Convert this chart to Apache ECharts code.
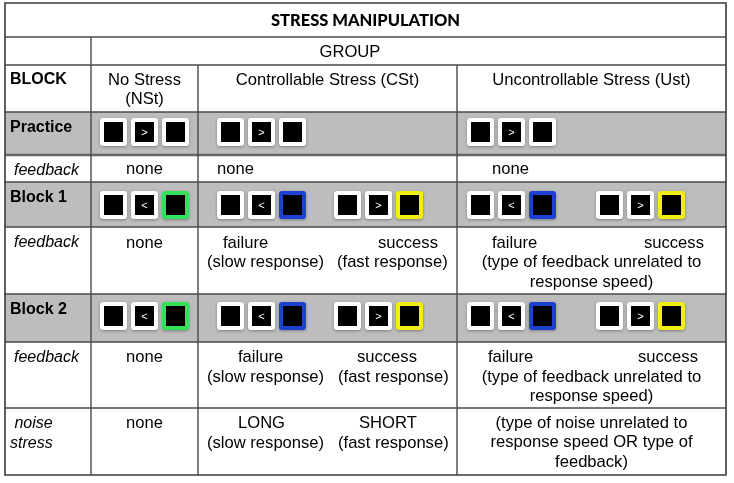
<!DOCTYPE html>
<html><head><meta charset="utf-8">
<script src="https://cdn.jsdelivr.net/npm/echarts@6/dist/echarts.min.js"></script>
<style>html,body{margin:0;padding:0;background:#fff}#c{width:734px;height:483px}</style>
</head><body><div id="c"></div>
<script>
// ================= DATA =================
const title = 'STRESS MANIPULATION';
const groupHeader = 'GROUP';
const blockHeader = 'BLOCK';
const groups = ['No Stress\n(NSt)', 'Controllable Stress (CSt)', 'Uncontrollable Stress (Ust)'];
const rowLabels = ['Practice', 'feedback', 'Block 1', 'feedback', 'Block 2', 'feedback', ' noise\nstress'];
const rowLabelItalic = [false, true, false, true, false, true, true];
// stimulus sequences: arrow + feedback frame colour (g/b/y, '' = none)
const practiceTrials = [['>'], ['>'], ['>']];
const block1Trials = [['<g'], ['<b', '>y'], ['<b', '>y']];
const block2Trials = [['<g'], ['<b', '>y'], ['<b', '>y']];
// text cells (one list of pieces per group)
const practiceFeedback = [['none'], ['none'], ['none']];
const block1Feedback = [['none'], ['failure', 'success', '(slow response)', '(fast response)'],
  ['failure', 'success', '(type of feedback unrelated to\nresponse speed)']];
const block2Feedback = [['none'], ['failure', 'success', '(slow response)', '(fast response)'],
  ['failure', 'success', '(type of feedback unrelated to\nresponse speed)']];
const noiseStress = [['none'], ['LONG', 'SHORT', '(slow response)', '(fast response)'],
  ['(type of noise unrelated to\nresponse speed OR type of\nfeedback)']];

// ================= LAYOUT =================
const colX = [5, 91, 198, 457, 726];
const rowY = [3, 37, 65, 112, 155, 182, 227, 294, 342, 408, 475];
const greyRows = [3, 5, 7];
const FONT = '"Liberation Sans", Arial, sans-serif';
const BODY = '16.6px ' + FONT;
const LINE_GAP = 19.8;
const labelDx = [5, 9, 5, 9, 5, 9, 5];
// piece positions per text row: [x, y, align] (absolute layout units)
const textRowPos = {
  4: [[[144.5, 169, 'center']], [[217, 169, 'left']], [[492, 169, 'left']]],
  6: [[[144.5, 243, 'center']], [[223, 243, 'left'], [378, 243, 'left'], [207, 262.5, 'left'], [337, 262.5, 'left']],
      [[492, 243, 'left'], [644, 243, 'left'], [591.5, 262.5, 'center']]],
  8: [[[144.5, 357, 'center']], [[238, 357, 'left'], [357, 357, 'left'], [207, 377, 'left'], [338, 377, 'left']],
      [[488, 357, 'left'], [638, 357, 'left'], [591.5, 377, 'center']]],
  9: [[[144.5, 423, 'center']], [[238, 423, 'left'], [359, 423, 'left'], [207, 443, 'left'], [338, 443, 'left']],
      [[591.5, 423, 'center']]]
};
const stimRowTop = {3: 118, 5: 191, 7: 302};
const trialStartX = [[100], [217, 334], [467, 596]];
const FRAME_PITCH = 31;
const fbColours = {g: '#2fe35a', b: '#1e3fd3', y: '#f3ee12'};

// ================= BUILD ELEMENTS =================
const els = [];
greyRows.forEach(r => els.push({k: 'rect', x: colX[0], y: rowY[r], w: colX[4] - colX[0], h: rowY[r + 1] - rowY[r], fill: '#bdbdbd'}));
for (let r = 1; r < rowY.length - 1; r++) {
  els.push({k: 'line', x1: colX[0], y1: rowY[r], x2: colX[4], y2: rowY[r], w: r === 4 ? 2.5 : 1.4, c: r === 4 ? '#666' : '#4a4a4a'});
}
els.push({k: 'line', x1: colX[1], y1: rowY[1], x2: colX[1], y2: rowY[10], w: 1.4, c: '#4a4a4a'});
els.push({k: 'line', x1: colX[2], y1: rowY[2], x2: colX[2], y2: rowY[10], w: 1.4, c: '#4a4a4a'});
els.push({k: 'line', x1: colX[3], y1: rowY[2], x2: colX[3], y2: rowY[10], w: 1.4, c: '#4a4a4a'});
els.push({k: 'frame', x: colX[0], y: rowY[0], w: colX[4] - colX[0], h: rowY[10] - rowY[0]});

els.push({k: 'text', t: title, x: (colX[0] + colX[4]) / 2, y: 21, a: 'center', font: '900 16.5px Lato, sans-serif'});
els.push({k: 'text', t: groupHeader, x: 350, y: 52, a: 'center', font: BODY});
els.push({k: 'text', t: blockHeader, x: colX[0] + 5, y: 80, a: 'left', font: 'bold 16px ' + FONT});
groups.forEach((g, i) => {
  g.split('\n').forEach((ln, j) => els.push({k: 'text', t: ln, x: (colX[i + 1] + colX[i + 2]) / 2, y: 80 + j * LINE_GAP, a: 'center', font: BODY}));
});
const labelRowIdx = [3, 4, 5, 6, 7, 8, 9];
rowLabels.forEach((lab, i) => {
  const r = labelRowIdx[i];
  const italic = rowLabelItalic[i];
  lab.split('\n').forEach((ln, j) => els.push({
    k: 'text', t: ln, x: colX[0] + (j === 0 && ln[0] !== ' ' ? labelDx[i] : 5), y: rowY[r] + 15.5 + j * LINE_GAP,
    a: 'left', font: (italic ? 'italic ' : 'bold ') + '16px ' + FONT
  }));
});
const textRows = {4: practiceFeedback, 6: block1Feedback, 8: block2Feedback, 9: noiseStress};
Object.keys(textRows).forEach(r => {
  textRows[r].forEach((pieces, gi) => {
    pieces.forEach((p, pi) => {
      const pos = textRowPos[r][gi][pi];
      p.split('\n').forEach((ln, j) => els.push({k: 'text', t: ln, x: pos[0], y: pos[1] + j * LINE_GAP, a: pos[2], font: BODY}));
    });
  });
});
const stimRows = {3: practiceTrials, 5: block1Trials, 7: block2Trials};
Object.keys(stimRows).forEach(r => {
  stimRows[r].forEach((trials, gi) => {
    trials.forEach((tr, ti) => {
      const x0 = trialStartX[gi][ti];
      const arrow = tr[0], col = tr[1] ? fbColours[tr[1]] : null;
      els.push({k: 'icon', x: x0, y: stimRowTop[r], arrow: ''});
      els.push({k: 'icon', x: x0 + FRAME_PITCH, y: stimRowTop[r], arrow: arrow});
      els.push({k: 'icon', x: x0 + 2 * FRAME_PITCH, y: stimRowTop[r], arrow: '', col: col});
    });
  });
});

// ================= CHART =================
const chart = echarts.init(document.getElementById('c'), null, {renderer: 'canvas'});
function renderItem(params, api) {
  const e = els[params.dataIndex];
  const P = (x, y) => api.coord([x, y]);
  if (e.k === 'rect') {
    const p = P(e.x, e.y), q = P(e.x + e.w, e.y + e.h);
    return {type: 'rect', shape: {x: p[0], y: p[1], width: q[0] - p[0], height: q[1] - p[1]}, style: {fill: e.fill}};
  }
  if (e.k === 'line') {
    const p = P(e.x1, e.y1), q = P(e.x2, e.y2);
    return {type: 'line', shape: {x1: p[0], y1: p[1], x2: q[0], y2: q[1]}, style: {stroke: e.c, lineWidth: e.w}};
  }
  if (e.k === 'frame') {
    const p = P(e.x, e.y), q = P(e.x + e.w, e.y + e.h);
    return {type: 'rect', shape: {x: p[0], y: p[1], width: q[0] - p[0], height: q[1] - p[1]}, style: {fill: 'none', stroke: '#3a3a3a', lineWidth: 1.6}};
  }
  if (e.k === 'text') {
    const p = P(e.x, e.y);
    return {type: 'text', x: p[0], y: p[1], style: {text: e.t, font: e.font, fill: '#000', align: e.a, verticalAlign: 'middle'}};
  }
  if (e.k === 'icon') {
    const p = P(e.x, e.y);
    const children = [
      {type: 'rect', shape: {x: p[0], y: p[1], width: 27, height: 28, r: 3},
       style: {fill: e.col || '#ffffff', shadowBlur: 3, shadowColor: 'rgba(0,0,0,0.35)', shadowOffsetY: 1}},
      {type: 'rect', shape: {x: p[0] + 4, y: p[1] + 4, width: 19, height: 20}, style: {fill: '#000'}}
    ];
    if (e.arrow) children.push({type: 'text', x: p[0] + 13.5, y: p[1] + 14.5,
      style: {text: e.arrow, font: '11px ' + FONT, fill: '#fff', align: 'center', verticalAlign: 'middle'}});
    return {type: 'group', children: children};
  }
}
chart.setOption({
  animation: false,
  backgroundColor: '#ffffff',
  grid: {left: 0, right: 0, top: 0, bottom: 0},
  xAxis: {type: 'value', min: 0, max: 734, show: false},
  yAxis: {type: 'value', min: 0, max: 483, inverse: true, show: false},
  series: [{type: 'custom', coordinateSystem: 'cartesian2d', clip: false, renderItem: renderItem,
    data: els.map((_, i) => [i, 0])}]
});
</script></body></html>
